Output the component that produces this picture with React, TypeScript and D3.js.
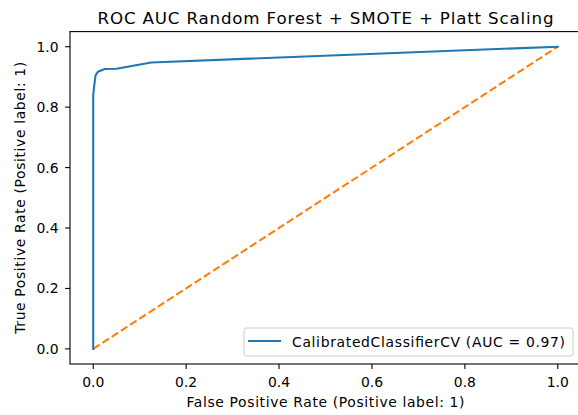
import React from "react";
import * as d3 from "d3";

const rocFpr = [0, 0, 0.001, 0.002, 0.005, 0.01, 0.025, 0.05, 0.125, 1];
const rocTpr = [0, 0.84, 0.855, 0.87, 0.905, 0.917, 0.926, 0.927, 0.948, 1];
const chanceX = [0, 1];
const chanceY = [0, 1];
const xTicks = [0, 0.2, 0.4, 0.6, 0.8, 1.0];
const yTicks = [0, 0.2, 0.4, 0.6, 0.8, 1.0];
const titleText = "ROC AUC Random Forest + SMOTE + Platt Scaling";
const xLabel = "False Positive Rate (Positive label: 1)";
const yLabel = "True Positive Rate (Positive label: 1)";
const legendLabel = "CalibratedClassifierCV (AUC = 0.97)";

const W = 578;
const H = 415;
const L = 70, R = 581, T = 31.6, B = 364;
const FONT = "DejaVu Sans, sans-serif";

export default function App() {
  const x = d3.scaleLinear().domain([-0.05, 1.05]).range([L, R]);
  const y = d3.scaleLinear().domain([-0.05, 1.05]).range([B, T]);
  const line = d3
    .line<[number, number]>()
    .x((d) => x(d[0]))
    .y((d) => y(d[1]));
  const roc: [number, number][] = rocFpr.map((f, i) => [f, rocTpr[i]]);
  const chance: [number, number][] = chanceX.map((f, i) => [f, chanceY[i]]);
  const cx = (L + R) / 2;
  const cy = (T + B) / 2;
  return (
    <svg
      width={W}
      height={H}
      style={{ position: "absolute", left: 0, top: 0, background: "#fff" }}
      fontFamily={FONT}
    >
      <rect x={0} y={0} width={W} height={H} fill="#fff" />
      <defs>
        <clipPath id="plotclip">
          <rect x={L} y={T} width={R - L} height={B - T} />
        </clipPath>
      </defs>
      <g clipPath="url(#plotclip)">
        <path
          d={line(chance) || ""}
          fill="none"
          stroke="#ff7f0e"
          strokeWidth={2.08}
          strokeDasharray="7.7,3.3"
        />
        <path
          d={line(roc) || ""}
          fill="none"
          stroke="#1f77b4"
          strokeWidth={2.08}
          strokeLinejoin="round"
          strokeLinecap="square"
        />
      </g>
      <rect x={L} y={T} width={R - L} height={B - T} fill="none" stroke="#000" strokeWidth={1.1} />
      {xTicks.map((t) => (
        <g key={"x" + t}>
          <line x1={x(t)} x2={x(t)} y1={B} y2={B + 4.9} stroke="#000" strokeWidth={1.1} />
          <text x={x(t)} y={387} fontSize={13.9} textAnchor="middle" fill="#000">
            {t.toFixed(1)}
          </text>
        </g>
      ))}
      {yTicks.map((t) => (
        <g key={"y" + t}>
          <line x1={L - 4.9} x2={L} y1={y(t)} y2={y(t)} stroke="#000" strokeWidth={1.1} />
          <text x={L - 11.5} y={y(t) + 5} fontSize={13.9} textAnchor="end" fill="#000">
            {t.toFixed(1)}
          </text>
        </g>
      ))}
      <text
        x={cx}
        y={24}
        fontSize={16.7}
        textAnchor="middle"
        fill="#000"
        textLength={456}
        lengthAdjust="spacing"
      >
        {titleText}
      </text>
      <text
        x={cx}
        y={407}
        fontSize={13.9}
        textAnchor="middle"
        fill="#000"
        textLength={278}
        lengthAdjust="spacing"
      >
        {xLabel}
      </text>
      <text
        transform={`translate(25,${cy}) rotate(-90)`}
        fontSize={13.9}
        textAnchor="middle"
        fill="#000"
        textLength={272}
        lengthAdjust="spacing"
      >
        {yLabel}
      </text>
      <g>
        <rect
          x={244}
          y={328}
          width={329}
          height={28}
          rx={2.5}
          fill="#fff"
          fillOpacity={0.8}
          stroke="#cccccc"
          strokeWidth={1}
        />
        <line x1={248} x2={281} y1={341} y2={341} stroke="#1f77b4" strokeWidth={2.08} />
        <text
          x={292}
          y={346.8}
          fontSize={13.9}
          fill="#000"
          textLength={273}
          lengthAdjust="spacing"
        >
          {legendLabel}
        </text>
      </g>
    </svg>
  );
}
